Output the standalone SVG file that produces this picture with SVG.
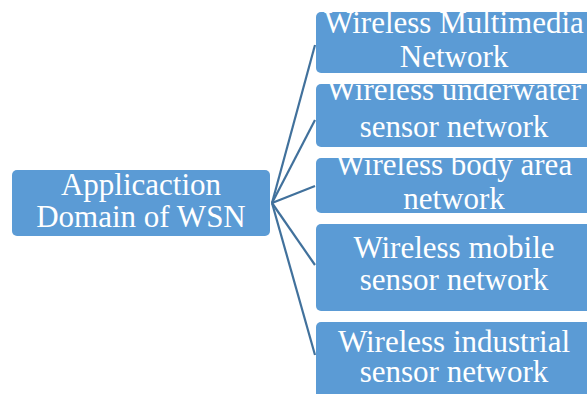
<svg xmlns="http://www.w3.org/2000/svg" width="587" height="394" viewBox="0 0 587 394">
<style>
.box{fill:#5b9bd5;}
.t{font-family:"Liberation Serif","Times New Roman",serif;font-size:31px;fill:#ffffff;text-anchor:middle;}
.c{stroke:#41719c;stroke-width:2.2;fill:none;}
</style>
<rect width="587" height="394" fill="#ffffff"/>
<g id="connectors">
<line class="c" x1="272" y1="203" x2="315" y2="45"/>
<line class="c" x1="272" y1="203" x2="315" y2="120"/>
<line class="c" x1="272" y1="203" x2="315" y2="186"/>
<line class="c" x1="272" y1="203" x2="315" y2="265"/>
<line class="c" x1="272" y1="203" x2="315" y2="355"/>
</g>
<g id="root">
<rect class="box" x="12" y="170" width="258" height="66" rx="5"/>
<text class="t" x="141" y="195">Applicaction</text>
<text class="t" x="141" y="227">Domain of WSN</text>
</g>
<g id="n1">
<rect class="box" x="316" y="12" width="276" height="61" rx="5"/>
<text class="t" x="454" y="33">Wireless Multimedia</text>
<text class="t" x="454" y="67">Network</text>
</g>
<g id="n2">
<rect class="box" x="316" y="84" width="276" height="63" rx="5"/>
<text class="t" x="454" y="100">Wireless underwater</text>
<text class="t" x="454" y="137">sensor network</text>
</g>
<g id="n3">
<rect class="box" x="316" y="158" width="276" height="55" rx="5"/>
<text class="t" x="454" y="175">Wireless body area</text>
<text class="t" x="454" y="209">network</text>
</g>
<g id="n4">
<rect class="box" x="316" y="224" width="276" height="87" rx="5"/>
<text class="t" x="454" y="258">Wireless mobile</text>
<text class="t" x="454" y="290">sensor network</text>
</g>
<g id="n5">
<rect class="box" x="316" y="322" width="276" height="80" rx="5"/>
<text class="t" x="454" y="352">Wireless industrial</text>
<text class="t" x="454" y="382">sensor network</text>
</g>
</svg>
